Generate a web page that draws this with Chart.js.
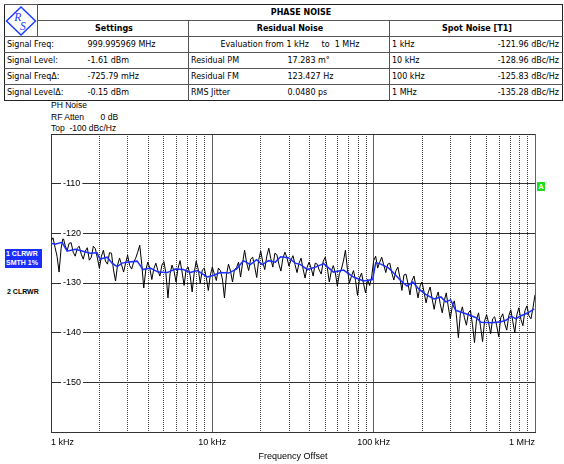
<!DOCTYPE html>
<html>
<head>
<meta charset="utf-8">
<script src="https://cdn.jsdelivr.net/npm/chart.js@4/dist/chart.umd.min.js"></script>
<style>
  body { margin: 0; width: 564px; height: 464px; position: relative; background: #fff; overflow: hidden; }
  #hdr { position: absolute; left: 4px; top: 4px; width: 558px; border-collapse: collapse; table-layout: fixed;
         font: 8px "DejaVu Sans", sans-serif; color: #000; border: 1px solid #222; }
  #hdr td { padding: 0 0 0 2px; white-space: nowrap; overflow: hidden; border-top: 1px solid #555; height: 15px; line-height: 15px; }
  #hdr td.sec { border-left: 1px solid #555; }
  #hdr td.c { text-align: center; font-weight: bold; }
  #hdr td.r { text-align: right; padding-right: 3px; }
  #hdr td.logo { border-right: 1px solid #555; padding: 0; line-height: 0; }
  #hdr td.logo svg { display: block; }
  .info { position: absolute; left: 51px; font: 8.5px "Liberation Sans", sans-serif; }
  #trace1 { position: absolute; left: 5px; top: 249px; width: 37px; height: 19px; background: #1a2fff; color: #fff;
            font: bold 7px "Liberation Sans", sans-serif; line-height: 9px; padding-left: 1px; box-sizing: border-box; }
  #trace2 { position: absolute; left: 7px; top: 288px; font: bold 7px "Liberation Sans", sans-serif; }
  #markA { position: absolute; left: 537px; top: 182px; width: 8px; height: 9px; background: #1adf1a; color: #fff;
           font: bold 7px "Liberation Sans", sans-serif; text-align: center; line-height: 9px; }
  #plot { position: absolute; left: 0; top: 100px; width: 564px; height: 364px; }
</style>
</head>
<body>
<table id="hdr">
  <colgroup>
    <col style="width:33px"><col style="width:48px"><col style="width:103px"><col style="width:97px">
    <col style="width:104px"><col style="width:73px"><col style="width:100px">
  </colgroup>
  <tr>
    <td class="logo" rowspan="2">
      <svg width="33" height="30" viewBox="0 0 33 31">
        <polygon points="16,1 31,15.5 16,30 1,15.5" fill="none" stroke="#1a3cff" stroke-width="1.5"/>
        <text x="9" y="16" font-family="Liberation Serif" font-style="italic" font-size="12" fill="#1a3cff">R</text>
        <text x="15" y="25" font-family="Liberation Serif" font-style="italic" font-size="12" fill="#1a3cff">S</text>
      </svg>
    </td>
    <td class="c" colspan="6" style="border-top:none">PHASE NOISE</td>
  </tr>
  <tr>
    <td class="c" colspan="2">Settings</td>
    <td class="c sec" colspan="2">Residual Noise</td>
    <td class="c sec" colspan="2">Spot Noise [T1]</td>
  </tr>
  <tr>
    <td colspan="2">Signal Freq:</td><td>999.995969 MHz</td>
    <td class="sec" colspan="2" style="text-align:center">Evaluation from 1 kHz &nbsp;&nbsp;&nbsp;&nbsp;to &nbsp;1 MHz</td>
    <td class="sec">1 kHz</td><td class="r">-121.96 dBc/Hz</td>
  </tr>
  <tr>
    <td colspan="2">Signal Level:</td><td>-1.61 dBm</td>
    <td class="sec">Residual PM</td><td>17.283 m°</td>
    <td class="sec">10 kHz</td><td class="r">-128.96 dBc/Hz</td>
  </tr>
  <tr>
    <td colspan="2">Signal Freq&#916;:</td><td>-725.79 mHz</td>
    <td class="sec">Residual FM</td><td>123.427 Hz</td>
    <td class="sec">100 kHz</td><td class="r">-125.83 dBc/Hz</td>
  </tr>
  <tr>
    <td colspan="2">Signal Level&#916;:</td><td>-0.15 dBm</td>
    <td class="sec">RMS Jitter</td><td>0.0480 ps</td>
    <td class="sec">1 MHz</td><td class="r">-135.28 dBc/Hz</td>
  </tr>
</table>

<div class="info" style="top:100px">PH Noise</div>
<div class="info" style="top:112px">RF Atten&nbsp;&nbsp;&nbsp;&nbsp;&nbsp;&nbsp;&nbsp;0 dB</div>
<div class="info" style="top:123px">Top &nbsp;-100 dBc/Hz</div>
<div id="trace1">1 CLRWR<br>SMTH 1%</div>
<div id="trace2">2 CLRWR</div>
<div id="markA">A</div>

<div id="plot"><canvas id="pn" width="564" height="364"></canvas></div>

<script>
// Frequency offset axis (kHz)
const xDecades = [1, 10, 100, 1000];
const xDecadeLabels = ["1 kHz", "10 kHz", "100 kHz", "1 MHz"];
const xGridTicks = [1, 2, 3, 4, 5, 6, 7, 8, 9, 10, 20, 30, 40, 50, 60, 70, 80, 90,
                    100, 200, 300, 400, 500, 600, 700, 800, 900, 1000];
const yTicks = [-160, -150, -140, -130, -120, -110, -100];

// Trace 1: raw phase noise sweep points (kHz)
const rawFreq = [
  1.000, 1.029, 1.059, 1.090, 1.122, 1.155, 1.189, 1.223, 1.259, 1.296, 1.334, 1.372, 1.413, 1.454, 1.496, 1.540, 1.585, 1.631, 1.679, 1.728,
  1.778, 1.830, 1.884, 1.939, 1.995, 2.054, 2.113, 2.175, 2.239, 2.304, 2.371, 2.441, 2.512, 2.585, 2.661, 2.738, 2.818, 2.901, 2.985, 3.073,
  3.162, 3.255, 3.350, 3.447, 3.548, 3.652, 3.758, 3.868, 3.981, 4.097, 4.217, 4.340, 4.467, 4.597, 4.732, 4.870, 5.012, 5.158, 5.309, 5.464,
  5.623, 5.788, 5.957, 6.131, 6.310, 6.494, 6.683, 6.879, 7.079, 7.286, 7.499, 7.718, 7.943, 8.175, 8.414, 8.660, 8.913, 9.173, 9.441, 9.716,
  10.00, 10.29, 10.59, 10.90, 11.22, 11.55, 11.89, 12.23, 12.59, 12.96, 13.34, 13.72, 14.13, 14.54, 14.96, 15.40, 15.85, 16.31, 16.79, 17.28,
  17.78, 18.30, 18.84, 19.39, 19.95, 20.54, 21.13, 21.75, 22.39, 23.04, 23.71, 24.41, 25.12, 25.85, 26.61, 27.38, 28.18, 29.01, 29.85, 30.73,
  31.62, 32.55, 33.50, 34.47, 35.48, 36.52, 37.58, 38.68, 39.81, 40.97, 42.17, 43.40, 44.67, 45.97, 47.32, 48.70, 50.12, 51.58, 53.09, 54.64,
  56.23, 57.88, 59.57, 61.31, 63.10, 64.94, 66.83, 68.79, 70.79, 72.86, 74.99, 77.18, 79.43, 81.75, 84.14, 86.60, 89.13, 91.73, 94.41, 97.16,
  100.0, 102.9, 105.9, 109.0, 112.2, 115.5, 118.9, 122.3, 125.9, 129.6, 133.4, 137.2, 141.3, 145.4, 149.6, 154.0, 158.5, 163.1, 167.9, 172.8,
  177.8, 183.0, 188.4, 193.9, 199.5, 205.4, 211.3, 217.5, 223.9, 230.4, 237.1, 244.1, 251.2, 258.5, 266.1, 273.8, 281.8, 290.1, 298.5, 307.3,
  316.2, 325.5, 335.0, 344.7, 354.8, 365.2, 375.8, 386.8, 398.1, 409.7, 421.7, 434.0, 446.7, 459.7, 473.2, 487.0, 501.2, 515.8, 530.9, 546.4,
  562.3, 578.8, 595.7, 613.1, 631.0, 649.4, 668.3, 687.9, 707.9, 728.6, 749.9, 771.8, 794.3, 817.5, 841.4, 866.0, 891.3, 917.3, 944.1, 971.6, 1000
];
// Trace 1: raw phase noise level (dBc/Hz)
const rawLevel = [
  -121.5, -120.9, -122.8, -124.6, -127.8, -123.0, -120.8, -122.4, -123.5, -122.0, -121.9, -123.8, -124.6, -123.0, -122.6, -124.2, -125.2, -123.6, -122.9, -125.4,
  -124.8, -122.6, -123.1, -125.0, -127.0, -124.6, -123.4, -125.6, -126.2, -123.9, -124.0, -127.4, -129.6, -126.4, -125.0, -126.3, -127.8, -126.0, -124.4, -126.5,
  -127.2, -125.8, -125.0, -123.8, -122.4, -126.2, -131.0, -127.4, -125.8, -127.0, -129.3, -127.1, -126.0, -127.5, -128.6, -126.4, -125.7, -128.1, -133.0, -128.2,
  -126.4, -127.6, -129.8, -127.0, -125.5, -127.8, -130.5, -127.3, -126.8, -128.5, -131.8, -128.0, -125.6, -127.2, -130.0, -127.4, -127.0, -128.9, -131.5, -128.4,
  -126.8, -128.2, -129.5, -127.0, -127.5, -129.2, -133.0, -128.4, -126.2, -127.6, -129.8, -127.3, -126.9, -125.8, -128.8, -126.0, -123.4, -125.9, -127.5, -125.2,
  -124.8, -126.7, -128.9, -125.3, -123.6, -125.8, -127.3, -124.6, -123.0, -125.1, -126.8, -124.0, -124.3, -126.2, -127.6, -125.0, -123.8, -124.9, -126.6, -125.4,
  -124.5, -126.3, -127.9, -126.0, -125.0, -127.2, -129.0, -126.8, -125.8, -127.0, -128.6, -126.0, -126.2, -127.4, -128.2, -125.6, -124.8, -126.9, -129.8, -127.6,
  -126.5, -128.0, -130.6, -128.1, -127.2, -125.6, -123.4, -127.3, -130.0, -128.6, -127.5, -129.5, -132.5, -129.0, -128.0, -130.2, -132.0, -129.3, -130.5, -128.8,
  -125.5, -124.6, -127.0, -125.8, -124.8, -126.4, -127.9, -126.2, -126.0, -128.0, -129.4, -127.6, -126.8, -128.9, -131.5, -128.4, -128.2, -130.1, -132.4, -129.5,
  -128.6, -130.8, -133.0, -130.6, -129.8, -131.9, -134.0, -132.0, -130.8, -133.2, -135.3, -133.0, -131.8, -134.2, -136.0, -133.6, -132.0, -134.8, -137.2, -134.6,
  -133.6, -136.4, -141.0, -136.2, -134.8, -137.0, -138.5, -136.0, -135.5, -138.4, -142.0, -137.4, -136.0, -138.8, -141.8, -137.6, -136.4, -138.0, -140.2, -137.2,
  -136.8, -138.6, -140.8, -137.0, -136.2, -138.2, -139.5, -136.6, -135.4, -137.8, -140.0, -136.4, -135.0, -137.3, -138.6, -135.6, -134.6, -136.6, -137.2, -135.0, -132.4
];

// Trace 1 smoothed (SMTH 1%)
const smoothFreq = [
  1.00, 1.06, 1.17, 1.26, 1.41, 1.58, 1.75, 1.93, 2.01, 2.23, 2.39, 2.57, 2.76, 2.96, 3.42, 3.72, 4.12, 4.62, 5.25, 5.89,
  6.61, 7.30, 8.08, 9.31, 10.1, 11.2, 12.6, 14.1, 15.6, 17.2, 18.8, 20.4, 22.3, 24.6, 26.5, 29.6, 32.7, 35.2, 38.9, 43.6,
  49.0, 56.4, 65.1, 75.0, 86.6, 98.5, 103, 111, 124, 133, 147, 161, 175, 190, 210, 237, 261, 280, 300, 322,
  373, 432, 463, 535, 617, 660, 710, 760, 820, 905, 990
];
const smoothLevel = [
  -122.0, -122.2, -121.8, -123.6, -123.2, -123.6, -124.0, -123.9, -125.2, -124.8, -126.0, -126.7, -126.0, -125.8, -125.6, -127.3, -127.0, -127.8, -127.9, -127.2,
  -127.3, -127.9, -127.5, -128.8, -128.5, -127.9, -128.0, -127.2, -125.5, -126.3, -125.3, -126.3, -125.5, -125.8, -124.7, -124.9, -126.0, -126.3, -127.3, -126.8,
  -126.1, -127.8, -127.4, -128.8, -129.6, -129.3, -125.9, -126.2, -127.0, -128.0, -129.5, -130.6, -129.8, -131.2, -132.3, -133.2, -132.8, -133.8, -133.4, -135.5,
  -136.2, -137.0, -137.9, -138.0, -137.8, -137.5, -136.7, -137.2, -136.6, -136.0, -135.2
];

const toPoints = (fs, ls) => fs.map((f, i) => ({ x: f, y: ls[i] }));
const isDecade = (v) => xDecades.includes(v);

new Chart(document.getElementById("pn"), {
  type: "line",
  data: {
    datasets: [
      {
        label: "1 CLRWR SMTH 1%",
        data: toPoints(smoothFreq, smoothLevel),
        borderColor: "#1a2fff",
        borderWidth: 1.5,
        pointRadius: 0,
      },
      {
        label: "1 CLRWR",
        data: toPoints(rawFreq, rawLevel),
        borderColor: "#000",
        borderWidth: 1,
        pointRadius: 0,
      },
    ],
  },
  options: {
    responsive: false,
    animation: false,
    events: [],
    layout: { padding: { left: 51, right: 29, top: 34, bottom: 0 } },
    plugins: { legend: { display: false }, tooltip: { enabled: false } },
    scales: {
      x: {
        type: "logarithmic",
        min: 1,
        max: 1000,
        afterBuildTicks: (s) => { s.ticks = xGridTicks.map((v) => ({ value: v })); },
        afterFit: (s) => { s.height = 32; },
        ticks: {
          autoSkip: false,
          maxRotation: 0,
          align: "inner",
          padding: 5,
          color: "#000",
          font: { family: "Liberation Sans", size: 9 },
          callback: (v) => (isDecade(v) ? xDecadeLabels[xDecades.indexOf(v)] : ""),
        },
        grid: {
          drawTicks: false,
          color: (c) => (c.tick && isDecade(c.tick.value) ? "#606060" : "#404040"),
          lineWidth: 1,
        },
        border: {
          color: "#333",
          dash: (c) => (c.tick && !isDecade(c.tick.value) ? [1, 1] : []),
        },
        title: {
          display: true,
          text: "Frequency Offset",
          color: "#000",
          font: { family: "Liberation Sans", size: 9 },
          padding: { top: 2, bottom: 2 },
        },
      },
      y: {
        min: -160,
        max: -100,
        afterBuildTicks: (s) => { s.ticks = yTicks.map((v) => ({ value: v })); },
        afterFit: (s) => { s.width = 0; },
        ticks: {
          mirror: true,
          padding: 12,
          z: 1,
          color: "#000",
          font: { family: "Liberation Sans", size: 9 },
          showLabelBackdrop: (c) => c.tick.value > -160 && c.tick.value < -100,
          backdropColor: "#fff",
          backdropPadding: { left: 2, right: 2, top: 0, bottom: 0 },
          callback: (v) => (v > -160 && v < -100 ? String(v) : ""),
        },
        grid: { drawTicks: false, color: "#303030", lineWidth: 1 },
        border: { color: "#333" },
      },
    },
  },
});
</script>
</body>
</html>
